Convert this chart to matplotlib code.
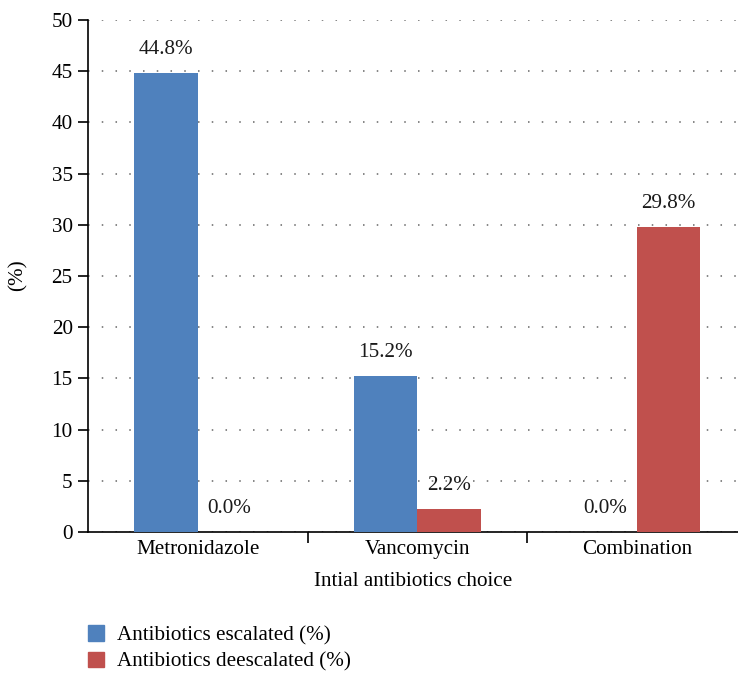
import matplotlib
matplotlib.use("Agg")
import matplotlib.pyplot as plt
import numpy as np
from matplotlib.patches import Patch

categories = ["Metronidazole", "Vancomycin", "Combination"]
escalated = [44.8, 15.2, 0.0]
deescalated = [0.0, 2.2, 29.8]
series_names = ["Antibiotics escalated (%)", "Antibiotics deescalated (%)"]
colors = ["#4F81BD", "#C0504D"]

plt.rcParams['font.family'] = ['Liberation Serif', 'DejaVu Serif']
fs = 15.2

fig = plt.figure(figsize=(7.38, 6.73), dpi=100)
W, H = 738, 673
ax = fig.add_axes([88 / W, (H - 532) / H, (746.5 - 88) / W, (532 - 20) / H])

x = np.arange(len(categories))
bw = 0.29
b1 = ax.bar(x - bw / 2, escalated, bw, color=colors[0], zorder=3)
b2 = ax.bar(x + bw / 2, deescalated, bw, color=colors[1], zorder=3)
for bars, vals in ((b1, escalated), (b2, deescalated)):
    for r, v in zip(bars, vals):
        ax.text(r.get_x() + r.get_width() / 2, v + 2.3, f"{v:.1f}%",
                ha="center", va="center", fontsize=fs, color="#1a1a1a")

ax.set_xlim(-0.5, 2.5)
ax.set_ylim(0, 50)
ax.set_yticks(np.arange(0, 51, 5))
ax.set_xticks([0.5, 1.5])
ax.set_xticklabels([])
ax.set_xticks(x, minor=True)
ax.set_xticklabels(categories, minor=True, fontsize=fs)
ax.tick_params(axis="x", which="minor", length=0, pad=6)
ax.tick_params(axis="x", which="major", length=8, width=1.2, direction="out")
ax.tick_params(axis="y", length=7, width=1.2, labelsize=fs, pad=4)
ax.grid(axis="y", linestyle=(0, (1, 8)), color="#666666", linewidth=1.1, zorder=0)
for s in ("top", "right"):
    ax.spines[s].set_visible(False)
ax.spines["left"].set_linewidth(1.2)
ax.spines["bottom"].set_linewidth(1.2)
ax.spines["left"].set_position(("data", -0.5))

fig.text(18 / W, 1 - 275 / H, "(%)", rotation=90, ha="center", va="center", fontsize=fs)
fig.text(413 / W, 1 - 581 / H, "Intial antibiotics choice", ha="center", va="center", fontsize=fs)

handles = [Patch(color=c) for c in colors]
leg = fig.legend(handles, series_names, loc="center left",
                 bbox_to_anchor=(88 / W, 1 - 648.5 / H),
                 frameon=False, fontsize=fs, handlelength=0.76, handleheight=0.76,
                 handletextpad=0.62, labelspacing=0.3, borderaxespad=0, borderpad=0)

fig.savefig("out.png", dpi=100)
